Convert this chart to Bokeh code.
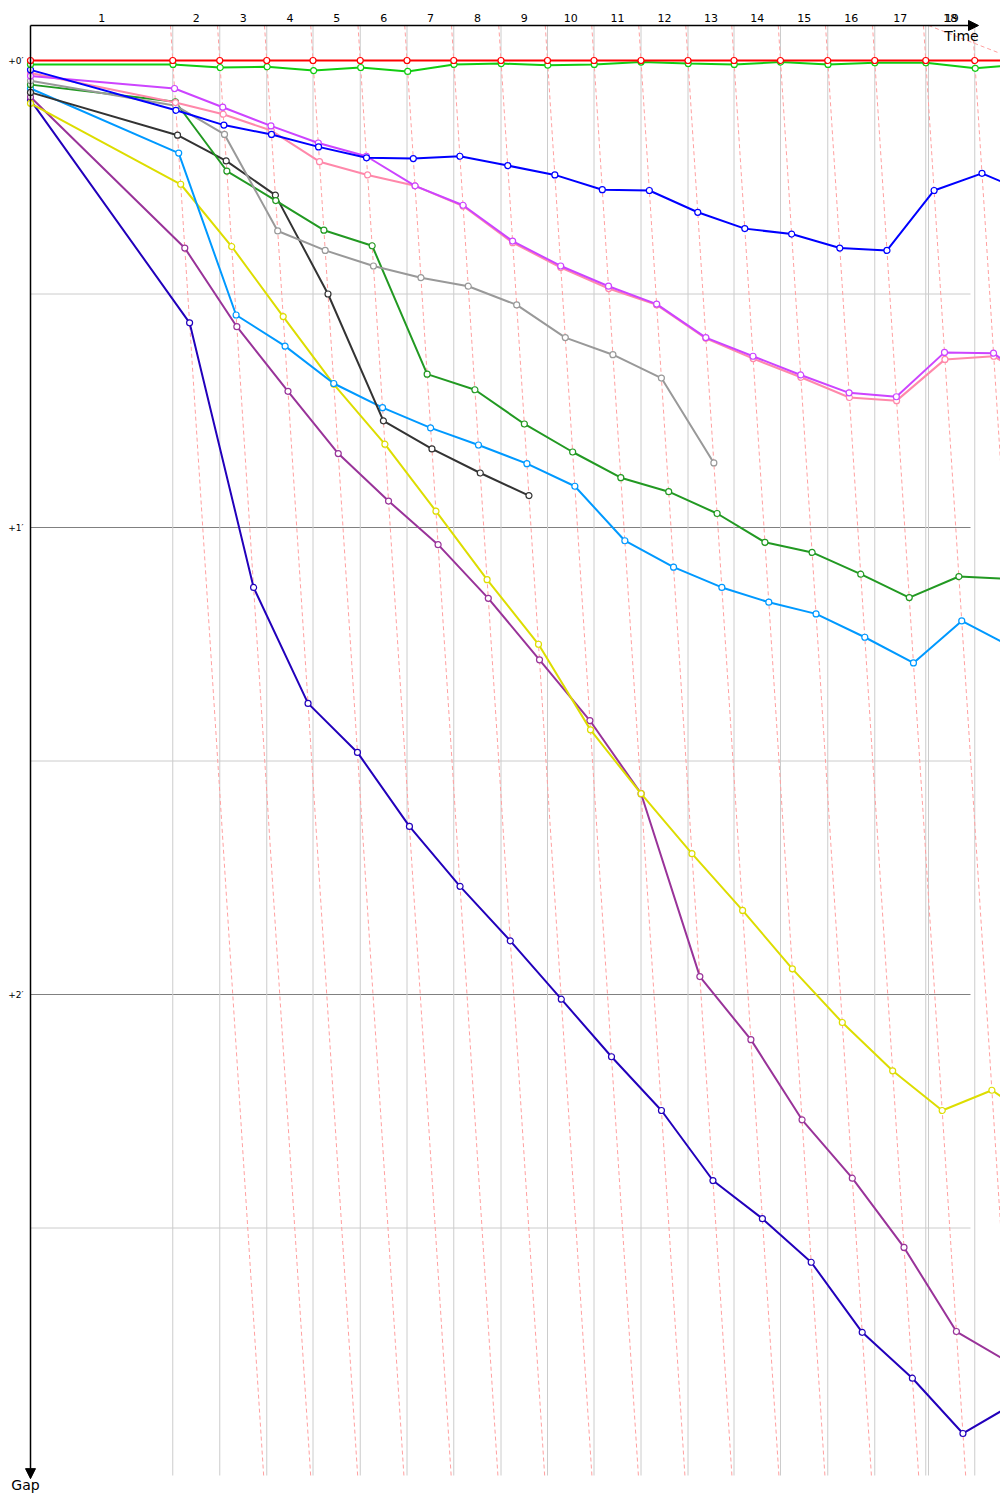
from bokeh.plotting import figure
from bokeh.models import Range1d, Arrow, NormalHead
from bokeh.embed import file_html
from bokeh.resources import INLINE
from bokeh.core.properties import value

# ---------------- data ----------------
# leader crossing times (s): start + laps 1..19
leader_cross = [0, 284.5, 378.5, 472.5, 565, 659.5, 753, 846.5, 941, 1034, 1127,
                1221, 1315, 1407, 1500, 1594.5, 1688.5, 1790.5, 1888.5, 1985]
extra_time_mark = 1796
lap_labels = [str(i) for i in range(1, 20)]

# gaps to the leader (s) at start and after each lap
gap_red = [0, 0, 0, 0, 0, 0, 0, 0, 0, 0, 0, 0, 0, 0, 0, 0, 0, 0, 0, 0]
gap_green = [0.5, 0.5, 0.9, 0.8, 1.3, 0.9, 1.4, 0.5, 0.4, 0.6, 0.5, 0.2, 0.4, 0.5, 0.2, 0.5, 0.3, 0.3, 1.0, 0.5]
gap_blue = [1.2, 6.4, 8.3, 9.5, 11.1, 12.5, 12.6, 12.3, 13.5, 14.7, 16.6, 16.7, 19.5, 21.6, 22.3, 24.1, 24.4, 16.7, 14.5, 17.2]
gap_pink = [1.6, 5.4, 6.9, 9.0, 13.0, 14.7, 16.1, 18.7, 23.4, 26.6, 29.3, 31.4, 35.7, 38.3, 40.7, 43.3, 43.7, 38.4, 38.0, 42.0]
gap_violet = [2.0, 3.6, 6.0, 8.4, 10.6, 12.3, 16.1, 18.6, 23.2, 26.4, 29.0, 31.3, 35.6, 38.0, 40.4, 42.7, 43.2, 37.5, 37.6, 42.4]
gap_grey = [2.6, 5.8, 9.5, 21.9, 24.4, 26.4, 27.9, 29.0, 31.4, 35.6, 37.8, 40.8, 51.7]
gap_darkgreen = [3.1, 5.3, 14.2, 18.0, 21.8, 23.8, 40.3, 42.3, 46.7, 50.3, 53.6, 55.4, 58.2, 61.9, 63.2, 66.0, 69.0, 66.3, 66.6]
gap_black = [4.1, 9.6, 12.9, 17.3, 30.0, 46.3, 49.9, 53.0, 55.9]
gap_skyblue = [3.6, 11.9, 32.7, 36.7, 41.5, 44.6, 47.2, 49.4, 51.8, 54.7, 61.7, 65.1, 67.7, 69.6, 71.1, 74.1, 77.4, 72.0, 75.4]
gap_yellow = [5.5, 15.9, 23.9, 32.9, 41.6, 49.3, 57.9, 66.7, 75.0, 86.0, 94.2, 101.9, 109.2, 116.7, 123.6, 129.8, 134.9, 132.3, 136.8]
gap_purple = [4.7, 24.1, 34.2, 42.5, 50.5, 56.6, 62.2, 69.1, 77.0, 84.8, 94.2, 117.7, 125.8, 136.1, 143.6, 152.5, 163.3, 167.3]
gap_navy = [5.1, 33.7, 67.7, 82.6, 88.9, 98.4, 106.1, 113.1, 120.6, 128.0, 134.9, 143.9, 148.8, 154.4, 163.4, 169.3, 176.4, 172.7]

gap_ticks = [0, 60, 120]
gap_tick_labels = ["+0\u2032", "+1\u2032", "+2\u2032"]
minor_gaps = [30, 90, 150]

drivers = [
    ("#2200bb", gap_navy),
    ("#993399", gap_purple),
    ("#dddd00", gap_yellow),
    ("#0099ff", gap_skyblue),
    ("#333333", gap_black),
    ("#229922", gap_darkgreen),
    ("#999999", gap_grey),
    ("#ff88aa", gap_pink),
    ("#cc44ff", gap_violet),
    ("#0000ff", gap_blue),
    ("#11cc11", gap_green),
    ("#ff0000", gap_red),
]

# ---------------- figure ----------------
G_TOP, G_BOT = -4.5, 181.8
T_END_GRID = 1880
p = figure(width=1000, height=1500, x_range=Range1d(-60, 1940), y_range=Range1d(185.01, -7.709),
           output_backend="svg", toolbar_location=None, min_border=0,
           x_axis_type=None, y_axis_type=None)
p.outline_line_color = None
p.background_fill_color = "white"
p.border_fill_color = "white"

# horizontal gap grid
p.segment(x0=[0] * len(minor_gaps), y0=minor_gaps, x1=[T_END_GRID] * len(minor_gaps), y1=minor_gaps,
          line_color="#cccccc", line_width=1)
p.segment(x0=[0] * len(gap_ticks), y0=gap_ticks, x1=[T_END_GRID] * len(gap_ticks), y1=gap_ticks,
          line_color="#808080", line_width=1)

# vertical lap lines
vx = leader_cross[1:19] + [extra_time_mark]
p.segment(x0=vx, y0=[G_TOP] * len(vx), x1=vx, y1=[G_BOT] * len(vx), line_color="#cccccc", line_width=1)

# lap iso-lines (crossing time = leader time + gap)
lx = leader_cross[1:19]
p.segment(x0=[t + G_TOP for t in lx], y0=[G_TOP] * len(lx), x1=[t + G_BOT for t in lx], y1=[G_BOT] * len(lx),
          line_color="#ffa0a0", line_width=1, line_dash="4 3")
p.segment(x0=[extra_time_mark], y0=[G_TOP], x1=[2100], y1=[3.1],
          line_color="#ffa0a0", line_width=1, line_dash="4 3")

# driver traces
for color, gaps in drivers:
    ts = [0] + [leader_cross[k] + g for k, g in enumerate(gaps) if k > 0]
    p.line(ts, gaps, line_color=color, line_width=2)
    p.scatter(ts, gaps, size=6, marker="circle", fill_color="white", line_color=color, line_width=1.2)

# axes
p.add_layout(Arrow(end=NormalHead(size=10, fill_color="black", line_color="black"),
                   x_start=0, y_start=G_TOP, x_end=0, y_end=182.2, line_color="black", line_width=1.5))
p.add_layout(Arrow(end=NormalHead(size=10, fill_color="black", line_color="black"),
                   x_start=0, y_start=G_TOP, x_end=1896, y_end=G_TOP, line_color="black", line_width=1.5))

# lap labels (middle of each lap)
mids = [(leader_cross[i] + leader_cross[i + 1]) / 2 for i in range(18)]
mids.append((extra_time_mark + leader_cross[18]) / 2)
p.text(x=mids, y=[-5.4] * len(mids), text=lap_labels, text_font=value("DejaVu Sans"),
       text_font_size="11px", text_align="center", text_baseline="middle", text_color="black")

# gap tick labels
p.text(x=[-14] * 3, y=gap_ticks, text=gap_tick_labels, text_font=value("DejaVu Sans"),
       text_font_size="9px", text_align="right", text_baseline="middle", text_color="black")

p.text(x=[1862], y=[-3.1], text=["Time"], text_font=value("DejaVu Sans"), text_font_size="14px",
       text_align="center", text_baseline="middle", text_color="black")
p.text(x=[-10], y=[183.0], text=["Gap"], text_font=value("DejaVu Sans"), text_font_size="14px",
       text_align="center", text_baseline="middle", text_color="black")

open("out.html", "w").write(file_html(p, INLINE))
